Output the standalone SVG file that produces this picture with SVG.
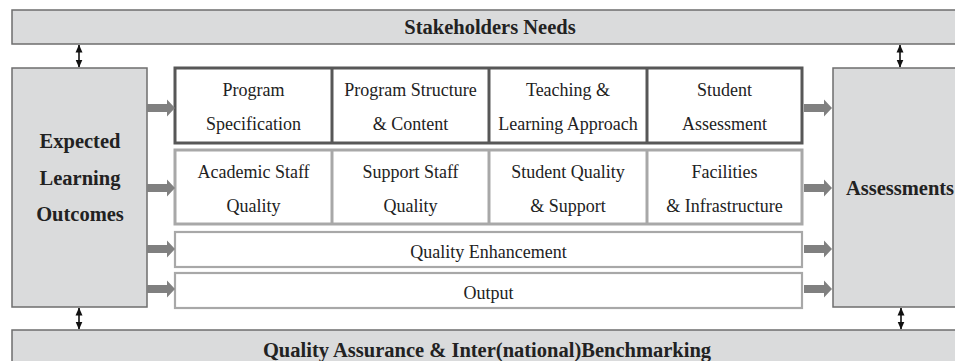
<svg xmlns="http://www.w3.org/2000/svg" width="955" height="361" viewBox="0 0 955 361" font-family="Liberation Serif, serif">
<style>
.bar{fill:#dadbdc;stroke:#6e6e6e;stroke-width:1.5}
.side{fill:#dadbdc;stroke:#6e6e6e;stroke-width:1.5}
.c1{fill:#fff;stroke:#575757;stroke-width:3}
.c2{fill:#fff;stroke:#a8a8a8;stroke-width:3}
.c3{fill:#fff;stroke:#a8a8a8;stroke-width:2.2}
.b{font-weight:bold;font-size:20.5px;fill:#222;text-anchor:middle}
.t{font-size:18px;fill:#222;text-anchor:middle}
.da{stroke:#111;stroke-width:1.6;fill:none;marker-start:url(#ah);marker-end:url(#ah)}
.fa{fill:#808080}
</style>
<defs>
<marker id="ah" viewBox="0 0 8 8" refX="7.5" refY="4" markerWidth="8" markerHeight="8" markerUnits="userSpaceOnUse" orient="auto-start-reverse">
<path d="M0,0.5 L8,4 L0,7.5 Z" fill="#111"/>
</marker>
<path id="fat" d="M0,-4 L20,-4 L20,-8.5 L28,0 L20,8.5 L20,4 L0,4 Z"/>
</defs>
<g id="stakeholders">
<rect class="bar" x="12" y="10" width="960" height="34"/>
<text class="b" x="490" y="34">Stakeholders Needs</text>
</g>
<g id="qa">
<rect class="bar" x="12" y="330" width="960" height="40"/>
<text class="b" x="487" y="357">Quality Assurance &amp; Inter(national)Benchmarking</text>
</g>
<g id="elo">
<rect class="side" x="12" y="68" width="135" height="239"/>
<text class="b" x="80" y="148">Expected</text>
<text class="b" x="80" y="185">Learning</text>
<text class="b" x="80" y="221">Outcomes</text>
</g>
<g id="assessments">
<rect class="side" x="833" y="68" width="135" height="239"/>
<text class="b" x="900" y="195">Assessments</text>
</g>
<g id="row1">
<rect class="c1" x="175" y="68" width="627" height="75"/>
<line x1="332" y1="68" x2="332" y2="143" stroke="#575757" stroke-width="3"/>
<line x1="489" y1="68" x2="489" y2="143" stroke="#575757" stroke-width="3"/>
<line x1="647" y1="68" x2="647" y2="143" stroke="#575757" stroke-width="3"/>
<text class="t" x="253.5" y="96">Program</text>
<text class="t" x="253.5" y="130">Specification</text>
<text class="t" x="410.5" y="96">Program Structure</text>
<text class="t" x="410.5" y="130">&amp; Content</text>
<text class="t" x="568" y="96">Teaching &amp;</text>
<text class="t" x="568" y="130">Learning Approach</text>
<text class="t" x="724.5" y="96">Student</text>
<text class="t" x="724.5" y="130">Assessment</text>
</g>
<g id="row2">
<rect class="c2" x="175" y="150" width="627" height="74"/>
<line x1="332" y1="150" x2="332" y2="224" stroke="#a8a8a8" stroke-width="3"/>
<line x1="489" y1="150" x2="489" y2="224" stroke="#a8a8a8" stroke-width="3"/>
<line x1="647" y1="150" x2="647" y2="224" stroke="#a8a8a8" stroke-width="3"/>
<text class="t" x="253.5" y="178">Academic Staff</text>
<text class="t" x="253.5" y="212">Quality</text>
<text class="t" x="410.5" y="178">Support Staff</text>
<text class="t" x="410.5" y="212">Quality</text>
<text class="t" x="568" y="178">Student Quality</text>
<text class="t" x="568" y="212">&amp; Support</text>
<text class="t" x="724.5" y="178">Facilities</text>
<text class="t" x="724.5" y="212">&amp; Infrastructure</text>
</g>
<g id="row3">
<rect class="c3" x="175" y="232" width="627" height="35"/>
<text class="t" x="488.5" y="258">Quality Enhancement</text>
</g>
<g id="row4">
<rect class="c3" x="175" y="273" width="627" height="35"/>
<text class="t" x="488.5" y="299">Output</text>
</g>
<g id="connectors">
<line class="da" x1="79" y1="45" x2="79" y2="67"/>
<line class="da" x1="900" y1="45" x2="900" y2="67"/>
<line class="da" x1="79" y1="308" x2="79" y2="329"/>
<line class="da" x1="901" y1="308" x2="901" y2="329"/>
<use href="#fat" class="fa" x="147" y="108"/>
<use href="#fat" class="fa" x="147" y="188"/>
<use href="#fat" class="fa" x="147" y="249"/>
<use href="#fat" class="fa" x="147" y="289"/>
<use href="#fat" class="fa" x="804" y="108"/>
<use href="#fat" class="fa" x="804" y="188"/>
<use href="#fat" class="fa" x="804" y="249"/>
<use href="#fat" class="fa" x="804" y="289"/>
</g>
</svg>
